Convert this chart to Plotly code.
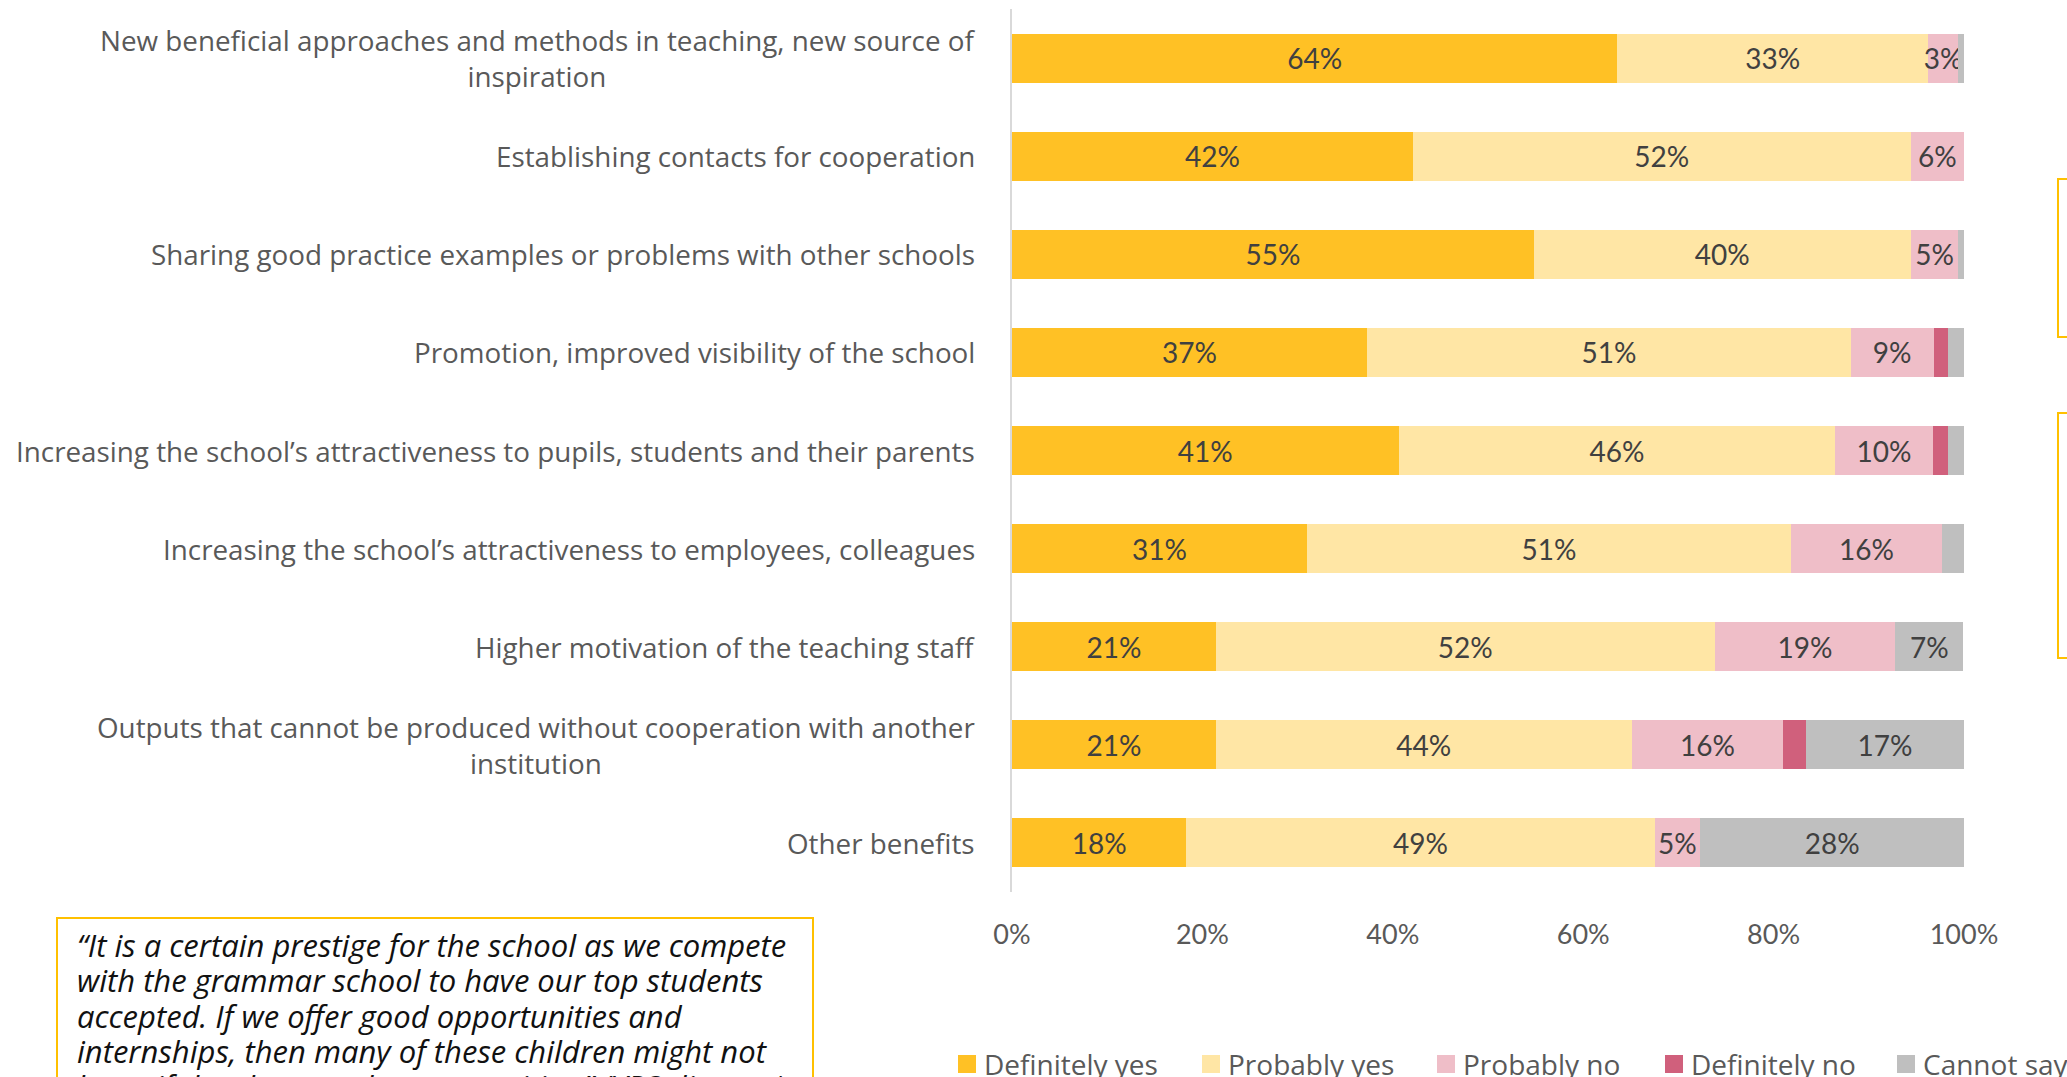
import plotly.graph_objects as go

# Survey answers per benefit (share of respondents, %)
categories = [
    "New beneficial approaches and methods in teaching, new source of<br>inspiration",
    "Establishing contacts for cooperation",
    "Sharing good practice examples or problems with other schools",
    "Promotion, improved visibility of the school",
    "Increasing the school’s attractiveness to pupils, students and their parents",
    "Increasing the school’s attractiveness to employees, colleagues",
    "Higher motivation of the teaching staff",
    "Outputs that cannot be produced without cooperation with another<br>institution",
    "Other benefits",
]
definitely_yes = [63.6, 42.1, 54.8, 37.3, 40.6, 31.0, 21.4, 21.4, 18.3]
probably_yes = [32.6, 52.3, 39.6, 50.8, 45.9, 50.8, 52.4, 43.7, 49.2]
probably_no = [3.2, 5.6, 5.0, 8.7, 10.2, 15.9, 19.0, 15.9, 4.8]
definitely_no = [0.0, 0.0, 0.0, 1.5, 1.6, 0.0, 0.0, 2.4, 0.0]
cannot_say = [0.6, 0.0, 0.6, 1.7, 1.7, 2.3, 7.1, 16.6, 27.7]

x_ticks = [0, 20, 40, 60, 80, 100]

quote_lines = [
    "“It is a certain prestige for the school as we compete",
    "with the grammar school to have our top students",
    "accepted. If we offer good opportunities and",
    "internships, then many of these children might not",
    "leave if they have such opportunities.” (VPS director)",
]

series = [
    ("Definitely yes", definitely_yes, "#FFC125"),
    ("Probably yes", probably_yes, "#FFE6A5"),
    ("Probably no", probably_no, "#EFBEC8"),
    ("Definitely no", definitely_no, "#D0607C"),
    ("Cannot say", cannot_say, "#BFBFBF"),
]

W, H = 2067, 1077
ML, MR, MT, MB = 1012, 103, 9, 185
PW, PH = W - ML - MR, H - MT - MB

# left edge (px) of each key swatch in the legend row under the chart
legend_swatch_x = [958, 1202, 1437, 1665, 1897]
LEGEND_Y = 1064
SWATCH = 18


def px(x):
    return (x - ML) / PW


def py(y):
    return (H - MB - y) / PH


NUM_FONT = "Lato, 'Open Sans', sans-serif"
TEXT_FONT = "'Open Sans', sans-serif"

fig = go.Figure()
for name, vals, color in series:
    fig.add_trace(go.Bar(
        name=name,
        y=categories,
        x=vals,
        orientation="h",
        marker=dict(color=color, line=dict(width=0)),
        text=[f"{round(v)}%" if v >= 2.5 else "" for v in vals],
        textposition="inside",
        insidetextanchor="middle",
        textangle=0,
        constraintext="none",
        textfont=dict(family=NUM_FONT, size=28, color="#404040"),
        hoverinfo="skip",
        showlegend=False,
    ))

# Category labels, right-aligned against the axis, centred line by line
annotations = []
for cat in categories:
    annotations.append(dict(
        xref="paper", yref="y", x=px(977), y=cat,
        xanchor="right", yanchor="middle", align="center",
        text=cat, showarrow=False,
        font=dict(family=TEXT_FONT, size=27.8, color="#595959"),
    ))

# Quotation, one line per annotation for a fixed line pitch
for i, line in enumerate(quote_lines):
    annotations.append(dict(
        xref="paper", yref="paper", x=px(76), y=py(945 + 35.3 * i),
        xanchor="left", yanchor="middle", align="left",
        text=f"<i>{line}</i>", showarrow=False, borderpad=0,
        font=dict(family=TEXT_FONT, size=31, color="#111111"),
    ))

GOLD = "#FFC000"
shapes = [
    # quote box
    dict(type="rect", xref="paper", yref="paper",
         x0=px(57), x1=px(813), y0=py(918), y1=py(1250),
         line=dict(color=GOLD, width=2), fillcolor="white", layer="below"),
    # side text boxes
    dict(type="rect", xref="paper", yref="paper",
         x0=px(2058), x1=px(2400), y0=py(179), y1=py(337),
         line=dict(color=GOLD, width=2), fillcolor="rgba(0,0,0,0)"),
    dict(type="rect", xref="paper", yref="paper",
         x0=px(2058), x1=px(2400), y0=py(413), y1=py(658),
         line=dict(color=GOLD, width=2), fillcolor="rgba(0,0,0,0)"),
]

# Legend row: coloured swatch followed by the series name
for (name, _, color), sx in zip(series, legend_swatch_x):
    shapes.append(dict(
        type="rect", xref="paper", yref="paper",
        x0=px(sx), x1=px(sx + SWATCH),
        y0=py(LEGEND_Y - SWATCH / 2), y1=py(LEGEND_Y + SWATCH / 2),
        line=dict(width=0), fillcolor=color,
    ))
    annotations.append(dict(
        xref="paper", yref="paper", x=px(sx + SWATCH + 7), y=py(LEGEND_Y),
        xanchor="left", yanchor="middle", text=name, showarrow=False,
        borderpad=0,
        font=dict(family=TEXT_FONT, size=28, color="#595959"),
    ))

fig.update_layout(
    width=W, height=H,
    margin=dict(l=ML, r=MR, t=MT, b=MB, pad=0, autoexpand=False),
    barmode="stack",
    bargap=0.5,
    plot_bgcolor="white",
    paper_bgcolor="white",
    font=dict(family=TEXT_FONT, color="#595959"),
    showlegend=False,
    xaxis=dict(
        range=[0, 100], tickvals=x_ticks, ticktext=[f"{t}%" for t in x_ticks],
        showgrid=False, zeroline=False, showline=False, ticks="",
        tickfont=dict(family=NUM_FONT, size=27, color="#595959"),
        ticklabelstandoff=24, fixedrange=True,
    ),
    yaxis=dict(
        categoryorder="array", categoryarray=categories,
        autorange="reversed", showticklabels=False,
        showgrid=False, zeroline=False,
        showline=True, linecolor="#D9D9D9", linewidth=1.5, ticks="",
    ),
    annotations=annotations,
    shapes=shapes,
)

fig.write_html("out.html")
